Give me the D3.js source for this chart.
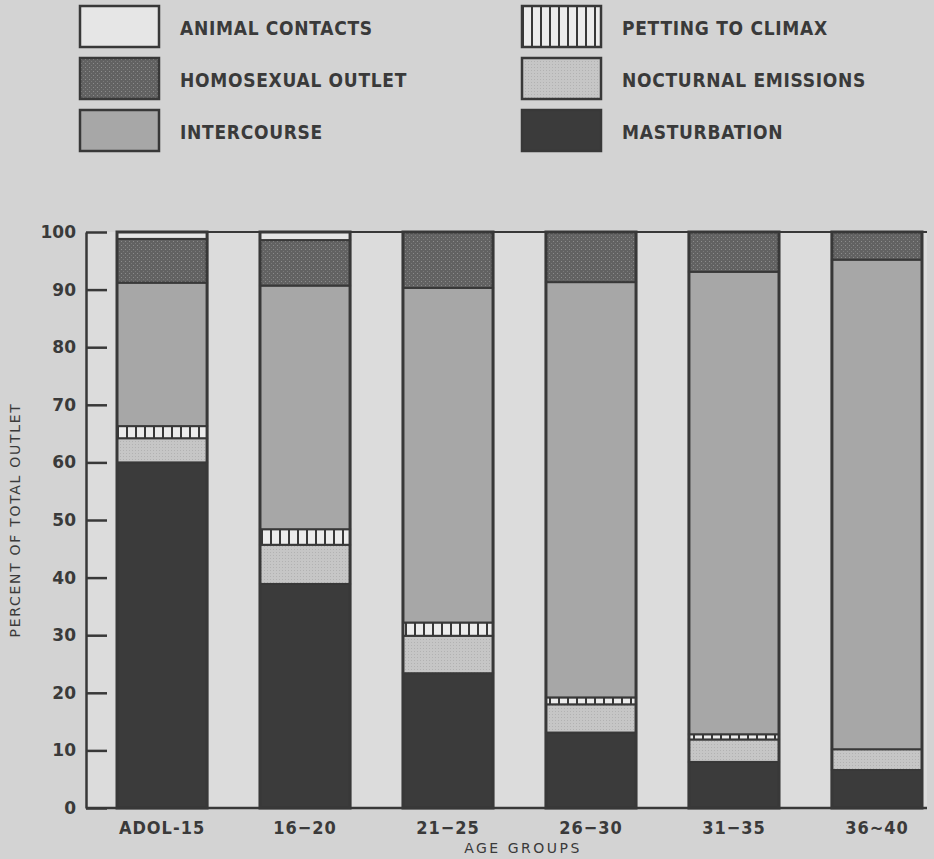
<!DOCTYPE html>
<html>
<head>
<meta charset="utf-8">
<script src="https://cdn.jsdelivr.net/npm/d3@7"></script>
<style>
  body { margin: 0; background: #d3d3d3; }
  svg { display: block; }
  text { fill: #3a3a3a; }
</style>
</head>
<body>
<svg id="chart" width="934" height="859"></svg>
<script>
// age groups along the bottom
const ageGroups = ["ADOL-15", "16-20", "21-25", "26-30", "31-35", "36-40"];
const tickLabels = ["ADOL-15", "16\u221220", "21\u221225", "26\u221230", "31\u221235", "36\u223c40"];

// percent of total outlet, bottom to top of each bar
const masturbation = [60.0, 38.9, 23.4, 13.1, 8.0, 6.6];
const nocturnal    = [4.2, 6.8, 6.5, 4.9, 3.9, 3.6];
const petting      = [2.1, 2.7, 2.3, 1.2, 0.9, 0.0];
const intercourse  = [24.9, 42.3, 58.1, 72.1, 80.3, 85.0];
const homosexual   = [7.6, 7.9, 9.7, 8.7, 6.9, 4.8];
const animal       = [1.2, 1.4, 0.0, 0.0, 0.0, 0.0];

const yTicks = [0, 10, 20, 30, 40, 50, 60, 70, 80, 90, 100];

const keys = ["masturbation", "nocturnal", "petting", "intercourse", "homosexual", "animal"];
const legendNames = {
	animal: "ANIMAL CONTACTS",
	homosexual: "HOMOSEXUAL OUTLET",
	intercourse: "INTERCOURSE",
	petting: "PETTING TO CLIMAX",
	nocturnal: "NOCTURNAL EMISSIONS",
	masturbation: "MASTURBATION"
};
const legendCols = [["animal", "homosexual", "intercourse"], ["petting", "nocturnal", "masturbation"]];

const rows = ageGroups.map((g, i) => ({
	group: g,
	masturbation: masturbation[i],
	nocturnal: nocturnal[i],
	petting: petting[i],
	intercourse: intercourse[i],
	homosexual: homosexual[i],
	animal: animal[i]
}));

const ink = "#383838";
const svg = d3.select("#chart");

// ---- fills ----
const defs = svg.append("defs");

const stip = defs.append("pattern").attr("id", "stip_light")
	.attr("patternUnits", "userSpaceOnUse").attr("width", 3).attr("height", 3);
stip.append("rect").attr("width", 3).attr("height", 3).attr("fill", "#c6c6c6");
stip.append("rect").attr("width", 1).attr("height", 1).attr("fill", "#b2b2b2");

const stipDark = defs.append("pattern").attr("id", "stip_dark")
	.attr("patternUnits", "userSpaceOnUse").attr("width", 4).attr("height", 4);
stipDark.append("rect").attr("width", 4).attr("height", 4).attr("fill", "#626262");
stipDark.append("rect").attr("x", 1).attr("y", 1).attr("width", 1).attr("height", 1).attr("fill", "#8c8c8c");
stipDark.append("rect").attr("x", 3).attr("y", 3).attr("width", 1).attr("height", 1).attr("fill", "#7a7a7a");

const hatch = defs.append("pattern").attr("id", "hatch")
	.attr("patternUnits", "userSpaceOnUse").attr("width", 9).attr("height", 10);
hatch.append("rect").attr("width", 9).attr("height", 10).attr("fill", "#ececec");
hatch.append("rect").attr("x", 0).attr("width", 2).attr("height", 10).attr("fill", ink);

const fills = {
	masturbation: "#3b3b3b",
	nocturnal: "url(#stip_light)",
	petting: "url(#hatch)",
	intercourse: "#a7a7a7",
	homosexual: "url(#stip_dark)",
	animal: "#e6e6e6"
};

// ---- scales ----
const x = d3.scaleBand().domain(ageGroups).range([117, 922]).paddingInner(0.37).paddingOuter(0);
const y = d3.scaleLinear().domain([0, 100]).range([808, 232]);
const axisX = 86;

// lighter plot field between the bars
svg.append("rect")
	.attr("x", axisX).attr("y", y(100))
	.attr("width", 927 - axisX).attr("height", y(0) - y(100))
	.attr("fill", "#dcdcdc");

// ---- bars ----
const stacked = d3.stack().keys(keys)(rows);

const layer = svg.append("g").selectAll("g")
	.data(stacked)
	.join("g")
	.attr("fill", d => fills[d.key]);

layer.selectAll("rect")
	.data(d => d.filter(p => p[1] - p[0] > 0))
	.join("rect")
	.attr("x", d => x(d.data.group))
	.attr("y", d => y(d[1]))
	.attr("width", x.bandwidth())
	.attr("height", d => y(d[0]) - y(d[1]))
	.attr("stroke", ink)
	.attr("stroke-width", 2);

// bar outlines
svg.append("g").selectAll("rect")
	.data(rows)
	.join("rect")
	.attr("x", d => x(d.group))
	.attr("y", y(100))
	.attr("width", x.bandwidth())
	.attr("height", y(0) - y(100))
	.attr("fill", "none")
	.attr("stroke", ink)
	.attr("stroke-width", 3);

// frame lines at top and bottom
svg.append("line")
	.attr("x1", x(ageGroups[0])).attr("x2", 927)
	.attr("y1", y(100)).attr("y2", y(100))
	.attr("stroke", ink).attr("stroke-width", 2);
svg.append("line")
	.attr("x1", axisX).attr("x2", 927)
	.attr("y1", y(0)).attr("y2", y(0))
	.attr("stroke", ink).attr("stroke-width", 2.5);

// ---- y axis ----
const yAxis = svg.append("g")
	.attr("transform", `translate(${axisX},0)`)
	.call(d3.axisLeft(y).tickValues(yTicks).tickSizeInner(-21).tickSizeOuter(0).tickPadding(10));
yAxis.select(".domain").attr("stroke", ink).attr("stroke-width", 2.5);
yAxis.selectAll(".tick line").attr("stroke", ink).attr("stroke-width", 2.5);
yAxis.selectAll(".tick text")
	.attr("fill", ink)
	.style("font-family", "'DejaVu Sans'")
	.style("font-weight", "bold")
	.style("font-size", "17px");

svg.append("text")
	.attr("transform", "translate(20,520) rotate(-90)")
	.attr("text-anchor", "middle")
	.style("font-family", "'DejaVu Sans'")
	.style("font-size", "14px")
	.style("letter-spacing", "1.7px")
	.text("PERCENT OF TOTAL OUTLET");

// ---- x labels ----
svg.append("g").selectAll("text")
	.data(ageGroups)
	.join("text")
	.attr("x", d => x(d) + x.bandwidth() / 2)
	.attr("y", 834)
	.attr("text-anchor", "middle")
	.style("font-family", "'DejaVu Sans Condensed'")
	.style("font-weight", "bold")
	.style("font-size", "18px")
	.style("letter-spacing", "1px")
	.text((d, i) => tickLabels[i]);

svg.append("text")
	.attr("x", 523).attr("y", 853)
	.attr("text-anchor", "middle")
	.style("font-family", "'DejaVu Sans'")
	.style("font-size", "14px")
	.style("letter-spacing", "2.5px")
	.text("AGE GROUPS");

// ---- legend ----
const legendX = [80, 522];
const legendY = [6, 58, 110];
legendCols.forEach((col, c) => {
	col.forEach((k, r) => {
		const g = svg.append("g").attr("transform", `translate(${legendX[c]},${legendY[r]})`);
		g.append("rect")
			.attr("width", 79).attr("height", 41)
			.attr("fill", fills[k])
			.attr("stroke", ink).attr("stroke-width", 2.5);
		g.append("text")
			.attr("x", 100).attr("y", 29)
			.style("font-family", "'DejaVu Sans Condensed'")
			.style("font-weight", "bold")
			.style("font-size", "19px")
			.style("letter-spacing", "0.7px")
			.text(legendNames[k]);
	});
});
</script>
</body>
</html>
